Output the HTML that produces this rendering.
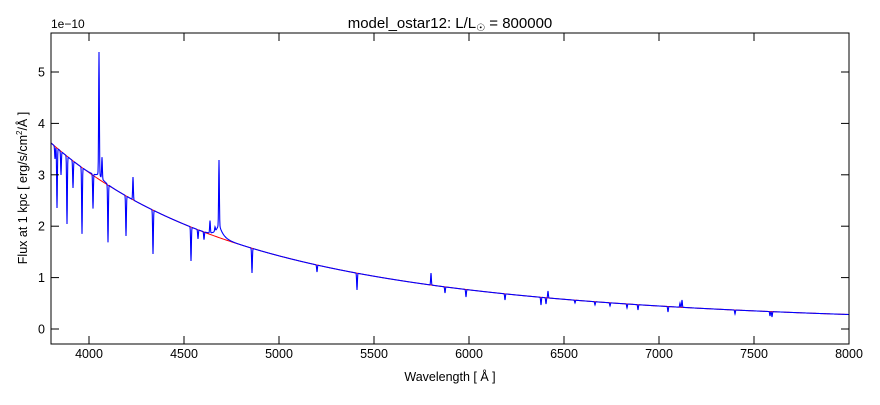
<!DOCTYPE html>
<html><head><meta charset="utf-8"><style>
body{margin:0;background:#fff;}
svg{font-family:"Liberation Sans","DejaVu Sans",sans-serif;}
</style></head><body>
<svg id="s" width="880" height="400" xmlns="http://www.w3.org/2000/svg">
<rect width="880" height="400" fill="#fff"/>
<text x="450" y="28" font-size="15" text-anchor="middle">model_ostar12: L/L<tspan font-size="10" dy="3">☉</tspan><tspan dy="-3"> = 800000</tspan></text>
<text x="51" y="28" font-size="12">1e−10</text>
<g id="plot"></g>
<rect x="51" y="33" width="798" height="311" fill="none" stroke="#000" stroke-width="1"/>
<g id="ticks" font-size="12.5"></g>
<text x="450" y="381" font-size="12.5" text-anchor="middle">Wavelength [ Å ]</text>
<text transform="translate(27,188) rotate(-90)" font-size="12.5" text-anchor="middle">Flux at 1 kpc [ erg/s/cm<tspan font-size="8" dy="-5">2</tspan><tspan dy="5">/Å ]</tspan></text>
</svg>
<script>
var ns="http://www.w3.org/2000/svg";
var S=0.1995;
function X(l){return 51+(l-3800)*S;}
function cont(px){var l=3800+(px-51)/S;return 329-51.4*3.62*Math.pow(l/3800,-3.55);}
var abs=[[55,159],[57,208],[61,175],[67,224],[73,188],[82,234],[93,210],[108,243],[126,236],[153,254],[191,261],[252,273],[317,272],[357,290],[445,293],[541,305],[627,308],[668,312],[772,317],[204,240],[198,239],[466,297],[505,300],[575,303],[595,305],[610,306],[638,310],[735,314],[770,316],[546,304]];
var em=[[99,58],[219,174],[210,222],[431,273],[548,291],[682,300],[102,160],[133,177],[215,232],[680,303]];
var p="",r="";
for(var x=51;x<=849;x+=0.25){
 var c=cont(x),y=c;
 for(var i=0;i<abs.length;i++){var d=(x-abs[i][0])/0.5;var g=Math.exp(-d*d);y+= (abs[i][1]-c)*g;}
 for(var i=0;i<em.length;i++){var d=(x-em[i][0])/0.5;var g=Math.exp(-d*d);y+=(em[i][1]-c)*g;}
 var dd=(x-219)/4;y-=14*Math.exp(-Math.abs(dd));
 var d2=(x-99)/4;y-=6*Math.exp(-Math.abs(d2));
 p+=(p?"L":"M")+x.toFixed(2)+","+y.toFixed(2);
 if(x%2==0||x==51)r+=(r?"L":"M")+x+","+c.toFixed(2);
}
r+="L849,"+cont(849).toFixed(2);
var g=document.getElementById("plot");
var a=document.createElementNS(ns,"path");a.setAttribute("d",r);a.setAttribute("stroke","#f00");a.setAttribute("fill","none");a.setAttribute("stroke-width","1");g.appendChild(a);
var b=document.createElementNS(ns,"path");b.setAttribute("d",p);b.setAttribute("stroke","#00f");b.setAttribute("fill","none");b.setAttribute("stroke-width","1.1");g.appendChild(b);
var t=document.getElementById("ticks"),h="";
S=0.19;
for(var l=4000;l<=8000;l+=500){var xx=X(l).toFixed(1);h+='<line x1="'+xx+'" x2="'+xx+'" y1="344" y2="336" stroke="#000"/><line x1="'+xx+'" x2="'+xx+'" y1="33" y2="41" stroke="#000"/><text x="'+xx+'" y="358" text-anchor="middle">'+l+'</text>';}
for(var v=0;v<=5;v++){var yy=(329-51.4*v).toFixed(1);h+='<line x1="51" x2="59" y1="'+yy+'" y2="'+yy+'" stroke="#000"/><line x1="849" x2="841" y1="'+yy+'" y2="'+yy+'" stroke="#000"/><text x="45" y="'+(+yy+4.5)+'" text-anchor="end">'+v+'</text>';}
t.innerHTML=h;
</script>
</body></html>
